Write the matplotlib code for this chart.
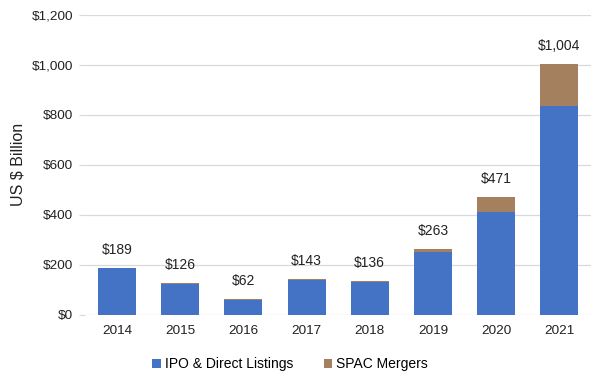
import numpy as np
import matplotlib.pyplot as plt

plt.rcParams['font.family'] = ['Liberation Sans', 'DejaVu Sans']

# Data (US $ billion)
years = ['2014', '2015', '2016', '2017', '2018', '2019', '2020', '2021']
ipo = [189, 124, 59, 140, 133, 251, 411, 836]
spac = [0, 2, 3, 3, 3, 12, 60, 168]
totals = [189, 126, 62, 143, 136, 263, 471, 1004]

blue = '#4472C4'
brown = '#A5805F'

fig = plt.figure(figsize=(6.06, 3.79), dpi=100)
ax = fig.add_axes([0.141, 0.169, 0.834, 0.792])

x = np.arange(len(years))
ax.bar(x, ipo, width=0.6, color=blue, label='IPO & Direct Listings', zorder=3)
ax.bar(x, spac, width=0.6, bottom=ipo, color=brown, label='SPAC Mergers', zorder=3)

for xi, t in zip(x, totals):
    ax.annotate('${:,}'.format(t), (xi, t), xytext=(0, 8), textcoords='offset points',
                ha='center', va='bottom', fontsize=10, color='#222222')

ax.set_xlim(-0.5, len(years) - 0.5)
ax.set_ylim(0, 1200)
ax.set_yticks(np.arange(0, 1201, 200))
ax.set_yticklabels(['${:,}'.format(v) for v in range(0, 1201, 200)])
ax.set_xticks(x)
ax.set_xticklabels(years)

ax.grid(axis='y', color='#D9D9D9', linewidth=0.9, zorder=0)
for s in ax.spines.values():
    s.set_visible(False)
ax.tick_params(axis='y', length=4, color='#D9D9D9', labelsize=9.7, labelcolor='#222222', pad=5)
ax.tick_params(axis='x', length=0, labelsize=9.7, labelcolor='#222222', pad=7)
ax.set_ylabel('US $ Billion', fontsize=11.5, color='#222222', labelpad=4)

ax.legend(loc='upper center', bbox_to_anchor=(0.405, -0.1), ncol=2, frameon=False,
          fontsize=10, handlelength=0.6, handleheight=0.6, handletextpad=0.3,
          columnspacing=2.2)

fig.savefig('out.png', dpi=100)
